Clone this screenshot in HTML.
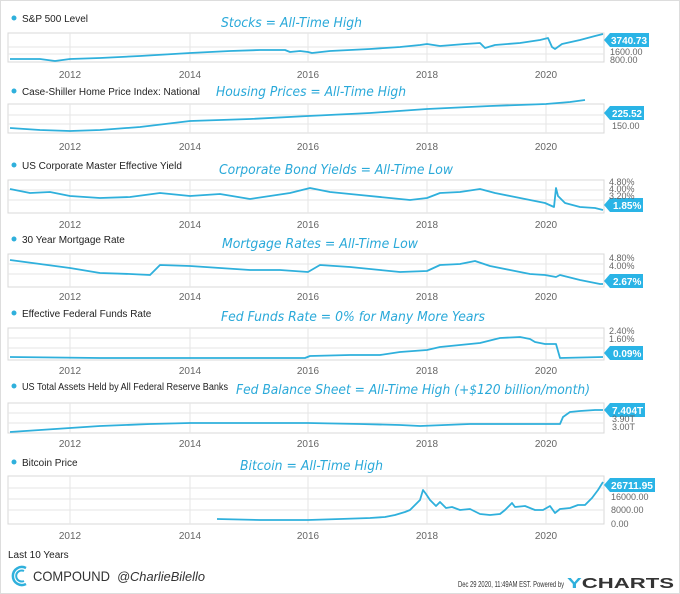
<!DOCTYPE html>
<html><head><meta charset="utf-8"><style>
body{margin:0;background:#fff;}
svg{display:block;font-family:"Liberation Sans",sans-serif;}
.t{font-size:10px;fill:#222;}
.a{font-size:13px;fill:#2aa9d9;font-family:"DejaVu Sans",sans-serif;font-style:italic;}
.y{font-size:10px;fill:#666;text-anchor:middle;}
.v{font-size:9px;fill:#666;}
.l{fill:none;stroke:#2fb0dc;stroke-width:1.8;stroke-linejoin:round;}
.tg{font-size:10px;fill:#fff;font-weight:bold;}
.g{stroke:#e6e6e6;stroke-width:1;}
.b{fill:#fff;stroke:#d8d8d8;stroke-width:1;}
</style></head><body>
<svg width="680" height="594" viewBox="0 0 680 594">
<rect x="0.5" y="0.5" width="679" height="593" fill="#fff" stroke="#ddd"/>

<!-- Panel 1 -->
<circle cx="14" cy="18" r="2.5" fill="#2fb0dc"/><text class="t" x="22" y="22">S&amp;P 500 Level</text>
<text class="a" x="221" y="27" textLength="141" lengthAdjust="spacingAndGlyphs">Stocks = All-Time High</text>
<rect class="b" x="8" y="33" width="596" height="29"/>
<g class="g"><line x1="70" y1="33" x2="70" y2="62"/><line x1="190" y1="33" x2="190" y2="62"/><line x1="308" y1="33" x2="308" y2="62"/><line x1="427" y1="33" x2="427" y2="62"/><line x1="546" y1="33" x2="546" y2="62"/><line x1="8" y1="47" x2="604" y2="47"/><line x1="8" y1="54" x2="604" y2="54"/></g>
<polyline class="l" points="10,59 40,59 55,61 70,59 100,58 140,56 190,53 230,51 260,50 285,50 290,52 300,51 308,52 312,53 330,51 370,49 400,47 420,45 427,44 440,46 465,44 480,43 485,48 495,45 520,43 540,40 548,38 552,47 555,49 562,44 580,40 595,36 603,34"/>
<g><polygon points="604,40 610,33 649,33 649,47 610,47" fill="#2ab4e6"/><text class="tg" x="611" y="44" textLength="36" lengthAdjust="spacingAndGlyphs">3740.73</text></g>
<text class="v" x="610" y="55">1600.00</text><text class="v" x="610" y="63">800.00</text>
<g class="y"><text x="70" y="78">2012</text><text x="190" y="78">2014</text><text x="308" y="78">2016</text><text x="427" y="78">2018</text><text x="546" y="78">2020</text></g>

<!-- Panel 2 -->
<circle cx="14" cy="91" r="2.5" fill="#2fb0dc"/><text class="t" x="22" y="95" textLength="178" lengthAdjust="spacingAndGlyphs">Case-Shiller Home Price Index: National</text>
<text class="a" x="216" y="96" textLength="190" lengthAdjust="spacingAndGlyphs">Housing Prices = All-Time High</text>
<rect class="b" x="8" y="104" width="596" height="29"/>
<g class="g"><line x1="70" y1="104" x2="70" y2="133"/><line x1="190" y1="104" x2="190" y2="133"/><line x1="308" y1="104" x2="308" y2="133"/><line x1="427" y1="104" x2="427" y2="133"/><line x1="546" y1="104" x2="546" y2="133"/><line x1="8" y1="115" x2="604" y2="115"/><line x1="8" y1="124" x2="604" y2="124"/></g>
<polyline class="l" points="10,128 40,130 70,131 100,130 140,127 190,121 250,119 308,116 370,113 427,109 490,106 546,104 570,102 585,100"/>
<g><polygon points="604,113 610,106 644,106 644,120 610,120" fill="#2ab4e6"/><text class="tg" x="612" y="117" textLength="30" lengthAdjust="spacingAndGlyphs">225.52</text></g>
<text class="v" x="612" y="129">150.00</text>
<g class="y"><text x="70" y="150">2012</text><text x="190" y="150">2014</text><text x="308" y="150">2016</text><text x="427" y="150">2018</text><text x="546" y="150">2020</text></g>

<!-- Panel 3 -->
<circle cx="14" cy="165" r="2.5" fill="#2fb0dc"/><text class="t" x="22" y="169">US Corporate Master Effective Yield</text>
<text class="a" x="219" y="174" textLength="234" lengthAdjust="spacingAndGlyphs">Corporate Bond Yields = All-Time Low</text>
<rect class="b" x="8" y="180" width="596" height="33"/>
<g class="g"><line x1="70" y1="180" x2="70" y2="213"/><line x1="190" y1="180" x2="190" y2="213"/><line x1="308" y1="180" x2="308" y2="213"/><line x1="427" y1="180" x2="427" y2="213"/><line x1="546" y1="180" x2="546" y2="213"/><line x1="8" y1="190" x2="604" y2="190"/><line x1="8" y1="200" x2="604" y2="200"/></g>
<polyline class="l" points="10,189 30,193 50,192 70,196 100,198 130,197 160,193 190,196 220,194 250,199 290,193 310,188 330,192 360,195 390,198 410,200 427,198 440,193 460,192 480,189 495,193 510,196 525,199 545,203 554,207 556,188 558,196 565,203 580,207 595,208 603,210"/>
<g><polygon points="604,205 610,198 643,198 643,212 610,212" fill="#2ab4e6"/><text class="tg" x="613" y="209">1.85%</text></g>
<text class="v" x="609" y="185">4.80%</text><text class="v" x="609" y="192">4.00%</text><text class="v" x="609" y="199">3.20%</text>
<g class="y"><text x="70" y="228">2012</text><text x="190" y="228">2014</text><text x="308" y="228">2016</text><text x="427" y="228">2018</text><text x="546" y="228">2020</text></g>

<!-- Panel 4 -->
<circle cx="14" cy="239" r="2.5" fill="#2fb0dc"/><text class="t" x="22" y="243">30 Year Mortgage Rate</text>
<text class="a" x="222" y="248" textLength="196" lengthAdjust="spacingAndGlyphs">Mortgage Rates = All-Time Low</text>
<rect class="b" x="8" y="254" width="596" height="33"/>
<g class="g"><line x1="70" y1="254" x2="70" y2="287"/><line x1="190" y1="254" x2="190" y2="287"/><line x1="308" y1="254" x2="308" y2="287"/><line x1="427" y1="254" x2="427" y2="287"/><line x1="546" y1="254" x2="546" y2="287"/><line x1="8" y1="264" x2="604" y2="264"/><line x1="8" y1="274" x2="604" y2="274"/></g>
<polyline class="l" points="10,260 40,264 70,268 100,273 130,274 150,275 160,265 190,266 220,268 250,270 280,270 308,272 320,265 350,267 380,270 400,272 427,271 440,265 460,264 475,261 490,266 510,270 530,274 545,275 556,277 560,275 580,280 600,284 603,284"/>
<g><polygon points="604,281 610,274 643,274 643,288 610,288" fill="#2ab4e6"/><text class="tg" x="613" y="285">2.67%</text></g>
<text class="v" x="609" y="261">4.80%</text><text class="v" x="609" y="269">4.00%</text>
<g class="y"><text x="70" y="300">2012</text><text x="190" y="300">2014</text><text x="308" y="300">2016</text><text x="427" y="300">2018</text><text x="546" y="300">2020</text></g>

<!-- Panel 5 -->
<circle cx="14" cy="313" r="2.5" fill="#2fb0dc"/><text class="t" x="22" y="317">Effective Federal Funds Rate</text>
<text class="a" x="221" y="321" textLength="264" lengthAdjust="spacingAndGlyphs">Fed Funds Rate = 0% for Many More Years</text>
<rect class="b" x="8" y="328" width="596" height="32"/>
<g class="g"><line x1="70" y1="328" x2="70" y2="360"/><line x1="190" y1="328" x2="190" y2="360"/><line x1="308" y1="328" x2="308" y2="360"/><line x1="427" y1="328" x2="427" y2="360"/><line x1="546" y1="328" x2="546" y2="360"/><line x1="8" y1="338" x2="604" y2="338"/><line x1="8" y1="348" x2="604" y2="348"/></g>
<polyline class="l" points="10,357 100,358 200,358 305,358 310,356 350,355 380,355 400,352 427,350 440,347 460,345 480,343 500,338 520,337 530,339 535,342 545,344 556,344 560,358 603,357"/>
<g><polygon points="604,353 610,346 643,346 643,360 610,360" fill="#2ab4e6"/><text class="tg" x="613" y="357">0.09%</text></g>
<text class="v" x="609" y="334">2.40%</text><text class="v" x="609" y="342">1.60%</text>
<g class="y"><text x="70" y="374">2012</text><text x="190" y="374">2014</text><text x="308" y="374">2016</text><text x="427" y="374">2018</text><text x="546" y="374">2020</text></g>

<!-- Panel 6 -->
<circle cx="14" cy="386" r="2.5" fill="#2fb0dc"/><text class="t" x="22" y="390" textLength="206" lengthAdjust="spacingAndGlyphs">US Total Assets Held by All Federal Reserve Banks</text>
<text class="a" x="236" y="394" textLength="354" lengthAdjust="spacingAndGlyphs">Fed Balance Sheet = All-Time High (+$120 billion/month)</text>
<rect class="b" x="8" y="403" width="596" height="30"/>
<g class="g"><line x1="70" y1="403" x2="70" y2="433"/><line x1="190" y1="403" x2="190" y2="433"/><line x1="308" y1="403" x2="308" y2="433"/><line x1="427" y1="403" x2="427" y2="433"/><line x1="546" y1="403" x2="546" y2="433"/><line x1="8" y1="413" x2="604" y2="413"/><line x1="8" y1="423" x2="604" y2="423"/></g>
<polyline class="l" points="10,432 40,430 70,428 100,426 150,424 190,423 250,423 308,423 360,424 400,425 420,426 445,425 470,424 480,424 560,424 563,417 570,412 580,411 595,410 603,410"/>
<g><polygon points="604,410 610,403 645,403 645,417 610,417" fill="#2ab4e6"/><text class="tg" x="612" y="414">7.404T</text></g>
<text class="v" x="612" y="422">3.90T</text><text class="v" x="612" y="430">3.00T</text>
<g class="y"><text x="70" y="447">2012</text><text x="190" y="447">2014</text><text x="308" y="447">2016</text><text x="427" y="447">2018</text><text x="546" y="447">2020</text></g>

<!-- Panel 7 -->
<circle cx="14" cy="462" r="2.5" fill="#2fb0dc"/><text class="t" x="22" y="466">Bitcoin Price</text>
<text class="a" x="240" y="470" textLength="143" lengthAdjust="spacingAndGlyphs">Bitcoin = All-Time High</text>
<rect class="b" x="8" y="476" width="596" height="48"/>
<g class="g"><line x1="70" y1="476" x2="70" y2="524"/><line x1="190" y1="476" x2="190" y2="524"/><line x1="308" y1="476" x2="308" y2="524"/><line x1="427" y1="476" x2="427" y2="524"/><line x1="546" y1="476" x2="546" y2="524"/><line x1="8" y1="488" x2="604" y2="488"/><line x1="8" y1="499" x2="604" y2="499"/><line x1="8" y1="510" x2="604" y2="510"/></g>
<polyline class="l" points="217,519 260,520 308,520 340,519 370,518 385,517 395,515 405,512 410,510 415,505 420,500 423,490 426,494 430,500 436,506 440,502 446,508 452,507 460,510 470,509 480,514 490,515 500,514 505,510 512,503 515,507 525,506 535,510 543,510 550,506 555,513 560,509 570,508 578,505 585,505 592,498 598,490 603,482"/>
<g><polygon points="604,485 610,478 655,478 655,492 610,492" fill="#2ab4e6"/><text class="tg" x="611" y="489" textLength="42" lengthAdjust="spacingAndGlyphs">26711.95</text></g>
<text class="v" x="611" y="500">16000.00</text><text class="v" x="611" y="513">8000.00</text><text class="v" x="611" y="527">0.00</text>
<g class="y"><text x="70" y="539">2012</text><text x="190" y="539">2014</text><text x="308" y="539">2016</text><text x="427" y="539">2018</text><text x="546" y="539">2020</text></g>

<!-- Footer -->
<text class="t" x="8" y="558">Last 10 Years</text>
<path d="M26,568 A9,9 0 1 0 26,584" fill="none" stroke="#2fb0dc" stroke-width="2.5"/>
<path d="M24,571 A5.5,5.5 0 1 0 24,581" fill="none" stroke="#2fb0dc" stroke-width="2"/>
<text x="33" y="581" font-size="14" fill="#333" textLength="77" lengthAdjust="spacingAndGlyphs">COMPOUND</text>
<text x="117" y="581" font-size="13" fill="#333" font-style="italic" textLength="88" lengthAdjust="spacingAndGlyphs">@CharlieBilello</text>
<text x="458" y="587" font-size="8" fill="#333" textLength="106" lengthAdjust="spacingAndGlyphs">Dec 29 2020, 11:49AM EST.  Powered by</text>
<text x="567" y="588" font-size="15" fill="#333" font-weight="bold" textLength="107" lengthAdjust="spacingAndGlyphs"><tspan fill="#2fb0dc">Y</tspan>CHARTS</text>
</svg>
</body></html>
